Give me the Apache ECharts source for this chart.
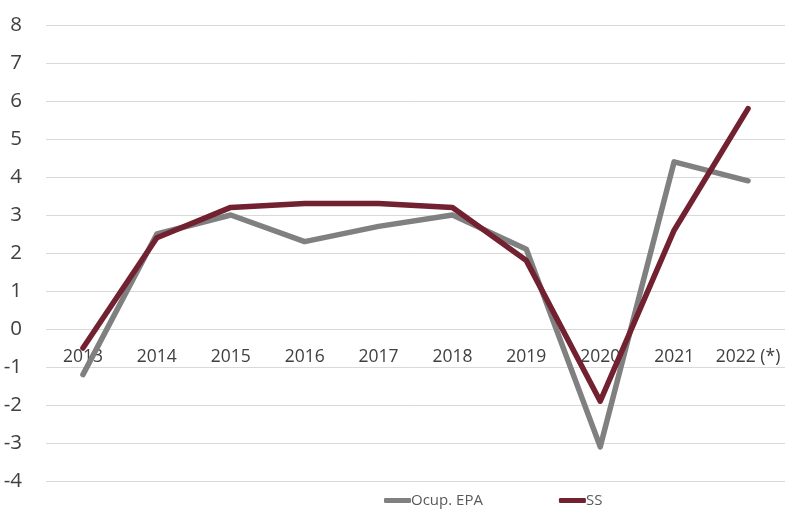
<!DOCTYPE html>
<html><head><meta charset="utf-8">
<script src="https://cdn.jsdelivr.net/npm/echarts@6/dist/echarts.min.js"></script>
<style>html,body{margin:0;padding:0;background:#fff}#c{width:785px;height:512px}</style>
</head><body><div id="c"></div>
<script>
const categories = ['2013','2014','2015','2016','2017','2018','2019','2020','2021','2022 (*)'];
const ocupEPA = [-1.2, 2.5, 3.0, 2.3, 2.7, 3.0, 2.1, -3.1, 4.4, 3.9];
const ss = [-0.5, 2.4, 3.2, 3.3, 3.3, 3.2, 1.8, -1.9, 2.6, 5.8];
const seriesNames = ['Ocup. EPA', 'SS'];
const yMin = -4, yMax = 8;
const gridTop = 25, gridBottom = 31, chartH = 512;
const plotH = chartH - gridTop - gridBottom;
// move the category axis up to the value 0 (as in the original)
const zeroOffset = -plotH * (0 - yMin) / (yMax - yMin);
const chart = echarts.init(document.getElementById('c'));
chart.setOption({
  animation: false,
  grid: {left: 46, right: 0, top: gridTop, bottom: gridBottom},
  legend: {
    top: 488, left: 379, itemWidth: 27, itemHeight: 5, itemGap: 76,
    icon: 'roundRect',
    textStyle: {fontFamily: 'Open Sans', fontSize: 15, color: '#595959', padding: [0,0,0,-5]},
    data: seriesNames
  },
  xAxis: {
    type: 'category', data: categories, boundaryGap: true, position: 'bottom', offset: zeroOffset,
    axisLine: {show: false, onZero: false}, axisTick: {show: false},
    axisLabel: {fontFamily: 'Open Sans', fontSize: 17.5, color: '#404040', margin: 19, interval: 0}
  },
  yAxis: {
    type: 'value', min: yMin, max: yMax, interval: 1,
    axisLine: {show: false}, axisTick: {show: false},
    axisLabel: {fontFamily: 'Open Sans', fontSize: 20.5, color: '#404040', margin: 24},
    splitLine: {lineStyle: {color: '#d9d9d9', width: 1}}
  },
  series: [
    {name: seriesNames[0], type: 'line', data: ocupEPA, symbol: 'none', color: '#808080',
     lineStyle: {width: 5.5, color: '#808080', cap: 'round', join: 'round'}},
    {name: seriesNames[1], type: 'line', data: ss, symbol: 'none', color: '#722130',
     lineStyle: {width: 5.5, color: '#722130', cap: 'round', join: 'round'}}
  ]
});
</script></body></html>
